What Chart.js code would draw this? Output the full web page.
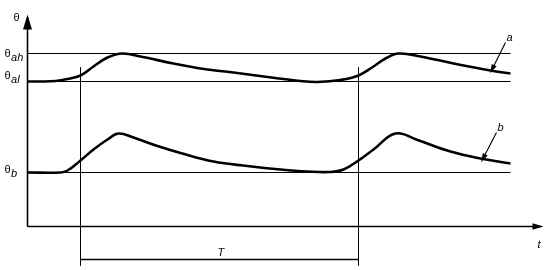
<!DOCTYPE html>
<html>
<head>
<meta charset="utf-8">
<script src="https://cdn.jsdelivr.net/npm/chart.js@4.4.1/dist/chart.umd.min.js"></script>
<style>
  html, body { margin: 0; padding: 0; background: #fff; }
  #wrap { width: 554px; height: 270px; }
</style>
</head>
<body>
<div id="wrap"><canvas id="c"></canvas></div>
<script>
// time axis (t) and temperature values
const curve_a_t = [0, 13, 28, 40, 53, 66, 80, 95, 113, 146, 173, 206, 240, 273, 290, 313, 331, 346, 358, 371, 393, 426, 463, 483];
const curve_a_theta = [145, 145, 145.5, 147.5, 151, 160, 169, 173, 170, 163, 158, 154, 149.5, 145.5, 144.5, 146.5, 151, 160, 168, 173, 170, 163, 156, 153];
const curve_b_t = [0, 33, 40, 53, 66, 80, 91, 106, 130, 153, 186, 220, 253, 280, 303, 316, 331, 346, 368, 390, 423, 453, 483];
const curve_b_theta = [54, 54, 56, 66, 77, 87, 93, 89, 80.5, 73.5, 65, 60.5, 57, 55, 54.5, 57, 66, 77, 93, 86.5, 75, 68, 63];

const theta_ah = 173;
const theta_al = 145;
const theta_b = 54;
const t_end = 483;
const period_start = 53;
const period_end = 331;

const pts = (xs, ys) => xs.map((x, i) => ({ x: x, y: ys[i] }));
const seg = (x1, y1, x2, y2) => [{ x: x1, y: y1 }, { x: x2, y: y2 }];

const thin = { borderColor: "#000", borderWidth: 1, tension: 0 };
const thick = { borderColor: "#000", borderWidth: 2.6, tension: 0.4 };

const datasets = [
  { data: pts(curve_a_t, curve_a_theta), ...thick },
  { data: pts(curve_b_t, curve_b_theta), ...thick },
  { data: seg(0, theta_ah, t_end, theta_ah), ...thin },
  { data: seg(0, theta_al, t_end, theta_al), ...thin },
  { data: seg(0, theta_b, t_end, theta_b), ...thin },
  { data: seg(period_start, 159, period_start, -39), ...thin },
  { data: seg(period_end, 159, period_end, -39), ...thin },
  { data: seg(period_start, -33, period_end, -33), ...thin, borderWidth: 1.5 },
  // axes
  { data: seg(0, 0, 513, 0), borderColor: "#000", borderWidth: 1.6, tension: 0, arrow: 11 },
  { data: seg(0, 0, 0, 209), borderColor: "#000", borderWidth: 1.6, tension: 0, arrow: 15 },
  // leaders for a and b
  { data: seg(478, 184, 464, 156), borderColor: "#000", borderWidth: 1.1, tension: 0, arrow: 9 },
  { data: seg(469, 94, 455, 67), borderColor: "#000", borderWidth: 1.1, tension: 0, arrow: 9 },
];

datasets.forEach((d) => {
  d.showLine = true;
  d.pointRadius = 0;
  d.clip = false;
});

// end of a line gets an arrow head
const arrowHeads = {
  id: "arrowHeads",
  afterDatasetsDraw(chart) {
    const { ctx, scales } = chart;
    chart.data.datasets.forEach((d) => {
      if (!d.arrow) return;
      const p0 = d.data[0], p1 = d.data[1];
      const x0 = scales.x.getPixelForValue(p0.x), y0 = scales.y.getPixelForValue(p0.y);
      const x1 = scales.x.getPixelForValue(p1.x), y1 = scales.y.getPixelForValue(p1.y);
      const ang = Math.atan2(y1 - y0, x1 - x0);
      const len = d.arrow, half = d.arrow * 0.3;
      ctx.save();
      ctx.translate(x1, y1);
      ctx.rotate(ang);
      ctx.beginPath();
      ctx.moveTo(3, 0);
      ctx.lineTo(3 - len, -half);
      ctx.lineTo(3 - len, half);
      ctx.closePath();
      ctx.fillStyle = "#000";
      ctx.fill();
      ctx.restore();
    });
  },
};

const labels = {
  id: "labels",
  afterDraw(chart) {
    const { ctx, scales } = chart;
    const px = (v) => scales.x.getPixelForValue(v);
    const py = (v) => scales.y.getPixelForValue(v);
    ctx.save();
    ctx.fillStyle = "#000";
    ctx.textBaseline = "alphabetic";
    const sym = (main, sub, x, y) => {
      ctx.font = "11px 'Liberation Sans', Arial, sans-serif";
      ctx.fillText(main, x, y);
      if (sub) {
        const w = ctx.measureText(main).width;
        ctx.font = "italic 11px 'Liberation Sans', Arial, sans-serif";
        ctx.fillText(sub, x + w + 0.5, y + 4);
      }
    };
    sym("θ", "", px(-14), py(206));
    sym("θ", "ah", px(-23), py(170));
    sym("θ", "al", px(-23), py(148));
    sym("θ", "b", px(-23), py(54));
    ctx.font = "italic 11px 'Liberation Sans', Arial, sans-serif";
    ctx.fillText("a", px(479), py(186));
    ctx.fillText("b", px(470), py(96));
    ctx.fillText("t", px(510), py(-21));
    ctx.fillText("T", px(190), py(-29));
    ctx.restore();
  },
};

new Chart(document.getElementById("c"), {
  type: "scatter",
  data: { datasets: datasets },
  options: {
    responsive: true,
    maintainAspectRatio: false,
    animation: false,
    layout: { padding: 0 },
    plugins: { legend: { display: false }, tooltip: { enabled: false } },
    scales: {
      // half-pixel offset keeps the thin lines crisp
      x: { type: "linear", min: -27.5, max: 526.5, display: false },
      y: { type: "linear", min: -43.5, max: 226.5, display: false },
    },
  },
  plugins: [arrowHeads, labels],
});
</script>
</body>
</html>
